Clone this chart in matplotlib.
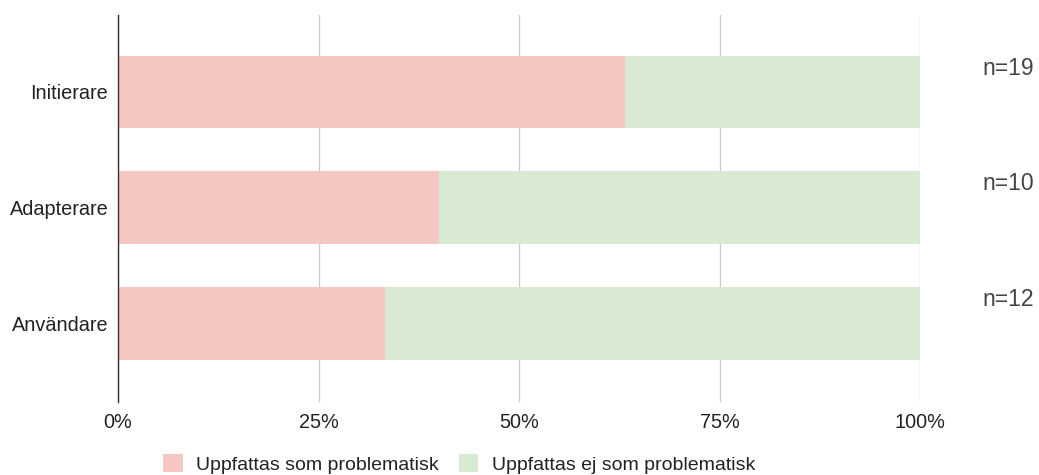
import matplotlib.pyplot as plt
import matplotlib.transforms as mtransforms
import numpy as np

# data
categories = ['Initierare', 'Adapterare', 'Användare']
n_total = [19, 10, 12]
problematic = [12, 4, 4]  # antal som uppfattar som problematisk
share_prob = [p / n for p, n in zip(problematic, n_total)]
share_not = [1 - s for s in share_prob]
x_ticks = [0, 0.25, 0.5, 0.75, 1.0]
x_labels = ['0%', '25%', '50%', '75%', '100%']
legend_labels = ['Uppfattas som problematisk', 'Uppfattas ej som problematisk']

col_prob = '#f4c7c3'
col_not = '#d9ead3'

plt.rcParams['font.family'] = ['Liberation Sans', 'DejaVu Sans']

fig = plt.figure(figsize=(10.39, 4.75), dpi=100)
ax = fig.add_axes([0.1136, 0.1537, 0.7719, 0.8147])

y = np.arange(len(categories))
h = 0.63
b1 = ax.barh(y, share_prob, height=h, color=col_prob, label=legend_labels[0], zorder=2)
b2 = ax.barh(y, share_not, left=share_prob, height=h, color=col_not, label=legend_labels[1], zorder=2)

ax.set_ylim(2.68, -0.665)
ax.set_xlim(0, 1)
ax.set_yticks(y)
ax.set_yticklabels(categories, fontsize=14.3, color='#222222')
ax.set_xticks(x_ticks)
ax.set_xticklabels(x_labels, fontsize=14.3, color='#222222')
ax.tick_params(axis='y', length=0, pad=7)
ax.tick_params(axis='x', length=0, pad=8)

ax.grid(axis='x', color='#cccccc', linewidth=1, zorder=0)
for s in ['top', 'right', 'bottom']:
    ax.spines[s].set_visible(False)
ax.spines['left'].set_color('#333333')
ax.spines['left'].set_linewidth(1)
ax.spines['left'].set_zorder(3)

# n-labels to the right
trans = mtransforms.blended_transform_factory(ax.transAxes, ax.transData)
for i, n in enumerate(n_total):
    ax.text(1.078, y[i] - 0.15, 'n=' + str(n), transform=trans, fontsize=16.5,
            color='#444444', ha='left', va='baseline')

fig.legend(handles=[b1, b2], labels=legend_labels, loc='center',
           bbox_to_anchor=(0.442, 0.023), ncol=2, frameon=False, fontsize=14,
           handlelength=1.0, handleheight=1.0, columnspacing=1.0, handletextpad=0.7,
           labelcolor='#222222', borderpad=0.2)

fig.savefig('out.png', dpi=100)
